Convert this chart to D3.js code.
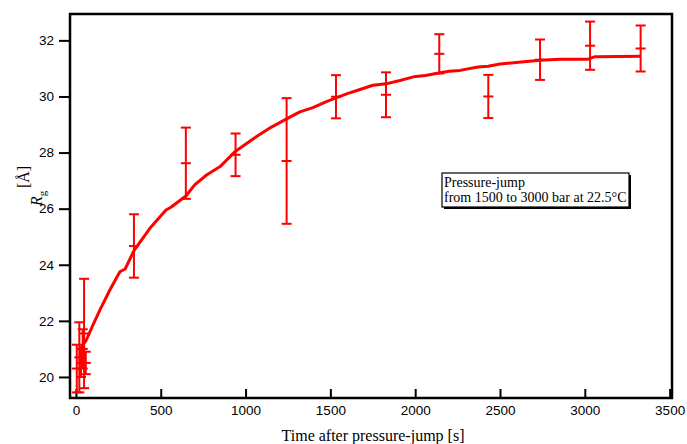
<!DOCTYPE html>
<html>
<head>
<meta charset="utf-8">
<script src="https://cdn.jsdelivr.net/npm/d3@7"></script>
<style>
  body { margin: 0; background: #fff; }
  .tick text { font-family: "Liberation Sans", Arial, sans-serif; font-size: 13.5px; fill: #000; }
  .serif { font-family: "Liberation Serif", "Times New Roman", serif; fill: #000; }
</style>
</head>
<body>
<div id="chart"></div>
<script>
// Chart size and plot frame
var w = 687;
var h = 444;
var plotLeft = 70, plotRight = 672, plotTop = 14, plotBottom = 398;

// Measured points (time in s, Rg in Angstrom, error half-width)
var pointTime = [5, 20, 30, 40, 48, 58, 342, 648, 941, 1242, 1533, 1828, 2142, 2431, 2736, 3031, 3329];
var pointRg   = [20.3, 20.7, 20.5, 21.0, 21.55, 20.5, 24.67, 27.62, 27.92, 27.70, 29.99, 30.06, 31.52, 30.00, 31.31, 31.81, 31.71];
var pointErr  = [0.85, 1.25, 0.5, 0.7, 1.95, 0.4, 1.13, 1.27, 0.76, 2.24, 0.77, 0.80, 0.70, 0.77, 0.72, 0.86, 0.82];

// Fitted curve
var fitTime = [25, 60, 100, 141, 200, 259, 290, 342, 436, 531, 560, 648, 700, 770, 850, 941, 1000, 1065, 1150, 1242,
               1320, 1397, 1470, 1533, 1600, 1675, 1750, 1828, 1910, 1990, 2060, 2140, 2200, 2264, 2370, 2430,
               2500, 2580, 2657, 2736, 2854, 3020, 3060, 3329];
var fitRg   = [21.0, 21.3, 21.85, 22.38, 23.1, 23.75, 23.85, 24.5, 25.3, 25.95, 26.05, 26.45, 26.85, 27.2, 27.5, 28.05,
               28.3, 28.57, 28.9, 29.2, 29.45, 29.6, 29.8, 29.95, 30.1, 30.25, 30.4, 30.45, 30.57, 30.7, 30.75, 30.84,
               30.9, 30.93, 31.05, 31.08, 31.16, 31.2, 31.25, 31.29, 31.33, 31.33, 31.42, 31.43];

// Tick values and texts
var xTicks = [0, 500, 1000, 1500, 2000, 2500, 3000, 3500];
var yTicks = [20, 22, 24, 26, 28, 30, 32];
var xTitle = "Time after pressure-jump [s]";
var legendLines = ["Pressure-jump", "from 1500 to 3000 bar at 22.5°C"];

var red = "#ff0000";

var svg = d3.select("#chart")
            .append("svg")
            .attr("width", w)
            .attr("height", h);

var xScale = d3.scaleLinear().domain([-35, 3514]).range([plotLeft, plotRight]);
var yScale = d3.scaleLinear().domain([19.25, 32.94]).range([plotBottom, plotTop]);

// Axes: y ticks point out, x ticks point in
var yAxis = d3.axisLeft(yScale).tickValues(yTicks).tickSize(11).tickPadding(5).tickSizeOuter(0).tickFormat(d3.format("d"));
var xAxis = d3.axisBottom(xScale).tickValues(xTicks).tickSizeInner(-9).tickPadding(7).tickSizeOuter(0).tickFormat(d3.format("d"));

var gy = svg.append("g")
   .attr("transform", `translate(${plotLeft}, 0)`)
   .call(yAxis);
var gx = svg.append("g")
   .attr("transform", `translate(0, ${plotBottom})`)
   .call(xAxis);

gy.select(".domain").remove();
gx.select(".domain").remove();
gy.selectAll(".tick line").attr("stroke", "#000").attr("stroke-width", 2);
gx.selectAll(".tick line").attr("stroke", "#000").attr("stroke-width", 2);

// Plot frame
svg.append("rect")
   .attr("x", plotLeft)
   .attr("y", plotTop)
   .attr("width", plotRight - plotLeft)
   .attr("height", plotBottom - plotTop)
   .attr("fill", "none")
   .attr("stroke", "#000")
   .attr("stroke-width", 2.5);

// Fit line
var points = fitTime.map((t, i) => [t, fitRg[i]]);
var line = d3.line()
             .x(d => xScale(d[0]))
             .y(d => yScale(d[1]));

svg.append("path")
   .datum(points)
   .attr("d", line)
   .attr("fill", "none")
   .attr("stroke", red)
   .attr("stroke-width", 3)
   .attr("stroke-linejoin", "round");

// Error bars with mean markers
var data = pointTime.map((t, i) => ({t: t, r: pointRg[i], e: pointErr[i]}));
var cap = 5;
var bars = svg.append("g")
              .attr("stroke", red)
              .attr("stroke-width", 2);

bars.selectAll(".stem")
    .data(data)
    .enter()
    .append("line")
    .attr("x1", d => xScale(d.t))
    .attr("x2", d => xScale(d.t))
    .attr("y1", d => yScale(d.r - d.e))
    .attr("y2", d => yScale(d.r + d.e));

[-1, 0, 1].forEach(function(k) {
    bars.selectAll(null)
        .data(data)
        .enter()
        .append("line")
        .attr("x1", d => xScale(d.t) - cap)
        .attr("x2", d => xScale(d.t) + cap)
        .attr("y1", d => yScale(d.r + k * d.e))
        .attr("y2", d => yScale(d.r + k * d.e));
});

// Axis titles
svg.append("text")
   .attr("class", "serif")
   .attr("x", 373)
   .attr("y", 441)
   .attr("text-anchor", "middle")
   .style("font-size", "16px")
   .text(xTitle);

svg.append("text")
   .attr("class", "serif")
   .attr("transform", "translate(29, 177) rotate(-90)")
   .attr("text-anchor", "middle")
   .style("font-size", "16px")
   .text("[Å]");

var rg = svg.append("text")
   .attr("class", "serif")
   .attr("transform", "translate(42, 206) rotate(-90)")
   .style("font-size", "16px");
rg.append("tspan").style("font-style", "italic").text("R");
rg.append("tspan").attr("dy", 4).style("font-size", "11px").text("g");

// Legend box with shadow
var lx = 442, ly = 173, lw = 187, lh = 34;
svg.append("rect")
   .attr("x", lx + 2).attr("y", ly + 2)
   .attr("width", lw).attr("height", lh)
   .attr("fill", "#000");
svg.append("rect")
   .attr("x", lx).attr("y", ly)
   .attr("width", lw).attr("height", lh)
   .attr("fill", "#fff")
   .attr("stroke", "#000")
   .attr("stroke-width", 1.2);

svg.append("g")
   .selectAll("text")
   .data(legendLines)
   .enter()
   .append("text")
   .attr("class", "serif")
   .attr("x", lx + 2)
   .attr("y", (d, i) => ly + 14 + i * 15)
   .style("font-size", "14px")
   .text(d => d);
</script>
</body>
</html>
